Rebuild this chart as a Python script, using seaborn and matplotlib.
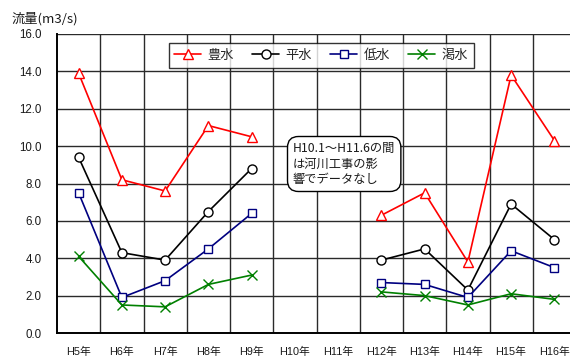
import numpy as np
import pandas as pd
import matplotlib
matplotlib.use("Agg")
import matplotlib.pyplot as plt
from matplotlib.lines import Line2D
import seaborn as sns

# Fiscal years (Heisei); H10 and H11 have no observations
years = ["H5年", "H6年", "H7年", "H8年", "H9年", "H10年", "H11年",
         "H12年", "H13年", "H14年", "H15年", "H16年"]

houzui = [13.9, 8.2, 7.6, 11.1, 10.5, None, None, 6.3, 7.5, 3.8, 13.8, 10.3]   # 豊水
heizui = [9.4, 4.3, 3.9, 6.5, 8.8, None, None, 3.9, 4.5, 2.3, 6.9, 5.0]        # 平水
teisui = [7.5, 1.9, 2.8, 4.5, 6.4, None, None, 2.7, 2.6, 1.9, 4.4, 3.5]        # 低水
kassui = [4.1, 1.5, 1.4, 2.6, 3.1, None, None, 2.2, 2.0, 1.5, 2.1, 1.8]        # 渇水

series_names = ["豊水", "平水", "低水", "渇水"]
yticks = [0, 2, 4, 6, 8, 10, 12, 14, 16]

sns.set_theme(style="white")
JP = ["Noto Sans CJK JP", "DejaVu Sans"]
plt.rcParams["font.family"] = ["Liberation Sans", "Noto Sans CJK JP", "DejaVu Sans"]

W, H = 570, 358
fig = plt.figure(figsize=(W / 100, H / 100), dpi=100)
ax_left, ax_right, ax_top, ax_bottom = 57, 576, 34, 333
ax = fig.add_axes([ax_left / W, 1 - ax_bottom / H,
                   (ax_right - ax_left) / W, (ax_bottom - ax_top) / H])

# Long-form table; a new segment starts after each gap so lines break there
rows = []
for name, vals in zip(series_names, [houzui, heizui, teisui, kassui]):
    seg = 0
    for i, v in enumerate(vals):
        if v is None:
            seg += 1
            continue
        rows.append({"series": name, "pos": i, "value": v, "seg": seg})
df = pd.DataFrame(rows)

styles = {
    "豊水": dict(color="#FF0000", marker="^", markersize=7.5),
    "平水": dict(color="#000000", marker="o", markersize=6.5),
    "低水": dict(color="#000080", marker="s", markersize=6),
    "渇水": dict(color="#008000", marker="x", markersize=6.5),
}

handles = []
for name in series_names:
    st = styles[name]
    sub = df[df["series"] == name]
    face = st["color"] if st["marker"] == "x" else "white"
    sns.lineplot(data=sub, x="pos", y="value", units="seg", estimator=None,
                 ax=ax, color=st["color"], linewidth=1.2,
                 marker=st["marker"], markersize=st["markersize"],
                 markerfacecolor=face, markeredgecolor=st["color"],
                 markeredgewidth=1.0, legend=False, zorder=3)
    handles.append(Line2D([], [], color=st["color"], linewidth=1.2,
                          marker=st["marker"], markersize=st["markersize"],
                          markerfacecolor=face, markeredgecolor=st["color"],
                          markeredgewidth=1.0, label=name))

ax.set_xlim(-0.5, len(years) - 0.5)
ax.set_ylim(0, 16)
ax.set_xticks(range(len(years)))
ax.set_xticklabels(years)
ax.set_xticks(np.arange(0.5, len(years) - 0.5, 1.0), minor=True)
ax.set_yticks(yticks)
ax.set_yticklabels([f"{t:.1f}" for t in yticks])
ax.set_xlabel("")
ax.set_ylabel("")

ax.grid(False)
ax.grid(axis="y", which="major", color="#2a2a2a", linewidth=1.0)
ax.grid(axis="x", which="minor", color="#2a2a2a", linewidth=1.0)
ax.tick_params(axis="both", which="both", length=0)
ax.tick_params(axis="x", pad=10, labelsize=7.8, colors="#1a1a1a")
ax.tick_params(axis="y", pad=11, labelsize=8.3, colors="#1a1a1a")
for lbl in ax.get_xticklabels() + ax.get_yticklabels():
    lbl.set_family(["Liberation Sans", "Noto Sans CJK JP"])

ax.spines["top"].set_visible(False)
ax.spines["right"].set_visible(False)
for s in ("left", "bottom"):
    ax.spines[s].set_color("black")
    ax.spines[s].set_linewidth(1.4)

leg = fig.legend(handles=handles, loc="upper left",
                 bbox_to_anchor=(168.5 / W, 1 - 43 / H), ncol=4,
                 frameon=True, fancybox=False, handlelength=2.0,
                 handletextpad=0.5, columnspacing=1.4, borderpad=0.45,
                 borderaxespad=0, prop={"family": JP, "size": 9.5})
leg.get_frame().set_edgecolor("black")
leg.get_frame().set_linewidth(1.0)
leg.get_frame().set_facecolor("white")
leg.set_zorder(5)

fig.text(12 / W, 1 - 19 / H, "流量(m3/s)", ha="left", va="center",
         fontsize=9.5, family=JP, color="#1a1a1a")

fig.text(293 / W, 1 - 164 / H, "H10.1～H11.6の間\nは河川工事の影\n響でデータなし",
         ha="left", va="center", fontsize=8.8, family=JP, linespacing=1.25,
         color="#1a1a1a", zorder=6,
         bbox=dict(boxstyle="round,pad=0.45,rounding_size=0.9",
                   facecolor="white", edgecolor="black", linewidth=1.0))

fig.savefig("out.png", dpi=100)
